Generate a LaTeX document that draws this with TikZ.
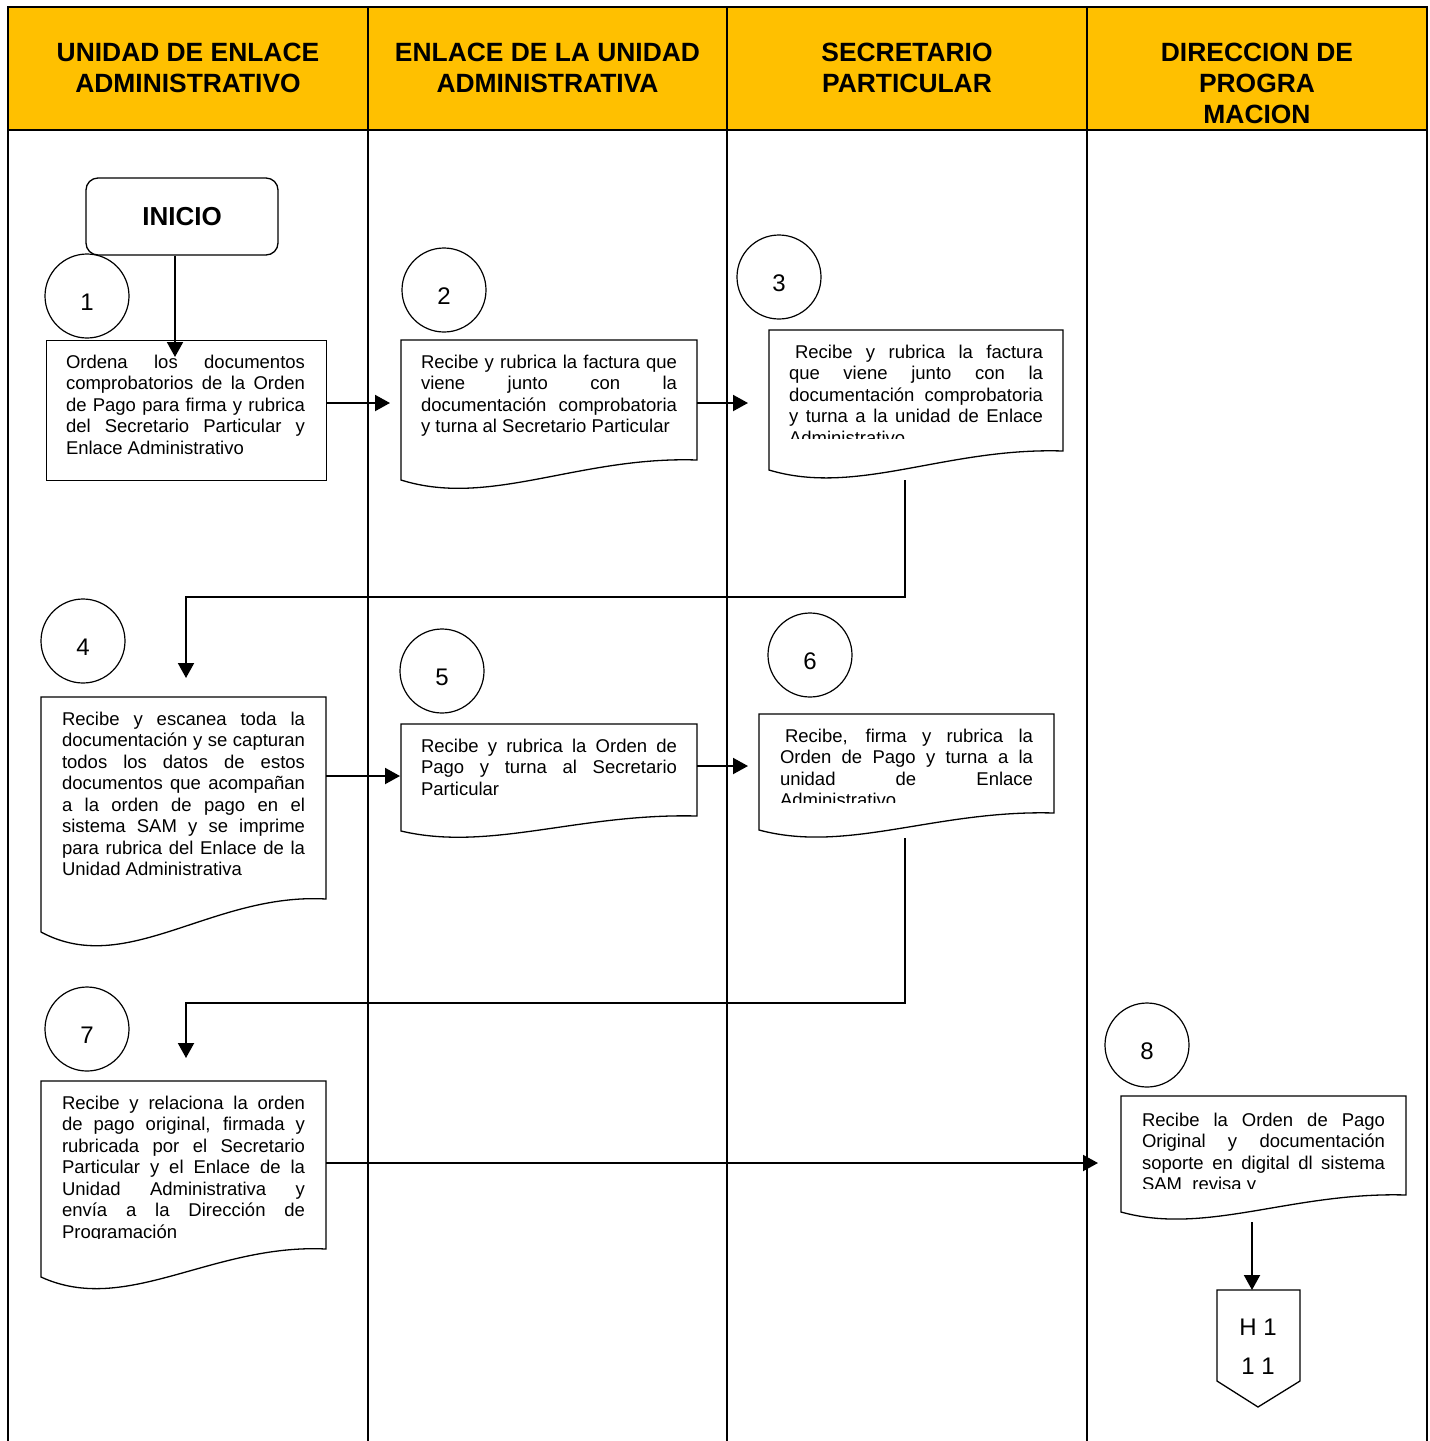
\documentclass[tikz,border=0pt]{standalone}
\usepackage{fontspec}
\setmainfont{Liberation Sans}
\usetikzlibrary{arrows.meta,calc}
\tolerance=10000 \hyphenpenalty=10000 \hbadness=10000
\definecolor{hdr}{HTML}{FFC000}
% #1 name, #2 x1, #3 x2, #4 top, #5 right bottom, #6 left bottom
\newcommand\docshp[6]{%
  \pgfmathsetmacro\dsw{#3-#2}\pgfmathsetmacro\dsd{#6-#5}%
  \pgfmathsetmacro\dsax{#2+0.6*\dsw}\pgfmathsetmacro\dsay{#5-0.2*\dsd}%
  \pgfmathsetmacro\dsbx{#2+0.3*\dsw}\pgfmathsetmacro\dsby{#6+1.4*\dsd}%
  \pgfmathsetmacro\dsh{#5-#4}%
  \node[inner sep=0,outer sep=0,minimum width=\dsw,minimum height=\dsh,anchor=north west] (#1) at (#2,#4) {};
  \draw[boxline] (#2,#4) -- (#3,#4) -- (#3,#5) .. controls (\dsax,\dsay) and (\dsbx,\dsby) .. (#2,#6) -- cycle;}
\newcommand\cnum[1]{\raisebox{-14.5pt}[0pt][0pt]{#1}}
\begin{document}
\begin{tikzpicture}[x=1pt,y=-1pt,
  boxline/.style={line width=1.3pt,line join=miter},
  tbl/.style={line width=2pt},
  arr/.style={line width=2pt,-{Triangle[length=15pt,width=16pt]}},
  circ/.style={circle,draw,line width=1.2pt,minimum size=84pt,inner sep=0,font=\fontsize{24}{28}\selectfont},
  txt/.style={inner sep=0,outer sep=0,anchor=north west,align=justify,font=\fontsize{18.5}{21.5}\selectfont},
  hd/.style={inner sep=0,anchor=north,align=center,font=\fontsize{26.4}{31}\selectfont\bfseries}]
\useasboundingbox (0,0) rectangle (1430,1441);
% table
\fill[hdr] (8,7) rectangle (1427,130);
\draw[tbl] (8,1441) -- (8,7) -- (1427,7) -- (1427,1441);
\draw[tbl] (8,130) -- (1427,130);
\draw[tbl] (368,7) -- (368,1441);
\draw[tbl] (727,7) -- (727,1441);
\draw[tbl] (1087,7) -- (1087,1441);
\node[hd] (h1) at (188,43) {UNIDAD DE ENLACE\\ADMINISTRATIVO};
\node[hd] (h2) at (547.5,43) {ENLACE DE LA UNIDAD\\ADMINISTRATIVA};
\node[hd] (h3) at (907,43) {SECRETARIO\\PARTICULAR};
\node[hd] (h4) at (1257,43) {DIRECCION DE\\PROGRA\\MACION};
% start
\node[draw,line width=1.3pt,rounded corners=12pt,minimum width=192pt,minimum height=77pt,inner sep=0,font=\fontsize{26}{30}\selectfont\bfseries] (ini) at (182,216.5) {INICIO};
% circles
\node[circ] (c1) at (87,296) {\cnum{1}};
\node[circ] (c2) at (444,290) {\cnum{2}};
\node[circ] (c3) at (779,277) {\cnum{3}};
\node[circ] (c4) at (83,641) {\cnum{4}};
\node[circ] (c5) at (442,671) {\cnum{5}};
\node[circ] (c6) at (810,655) {\cnum{6}};
\node[circ] (c7) at (87,1029) {\cnum{7}};
\node[circ] (c8) at (1147,1045) {\cnum{8}};
% box 1
\node[draw,line width=1.3pt,inner sep=0,minimum width=280pt,minimum height=140pt,anchor=north west] (b1) at (46,340) {};
\node[txt,text width=239pt] (t1) at (66,355) {Ordena los documentos\linebreak comprobatorios de la Orden\linebreak de Pago para firma y rubrica\linebreak del Secretario Particular y\linebreak Enlace Administrativo};
% document boxes
\docshp{b2}{401}{697}{340}{460}{480}
\node[txt,text width=256pt] (t2) at (421,355) {Recibe y rubrica la factura que\linebreak viene junto con la\linebreak documentación comprobatoria\linebreak y turna al Secretario Particular};
\docshp{b3}{769}{1063}{330}{451}{470}
\begin{scope}
\clip (769,330) rectangle (1063,438);
\node[txt,text width=254pt] (t3) at (789,345) {\hspace*{6pt}Recibe y rubrica la factura\linebreak que viene junto con la\linebreak documentación comprobatoria\linebreak y turna a la unidad de Enlace\linebreak Administrativo};
\end{scope}
\docshp{b4}{41}{326}{697}{899}{932}
\node[txt,text width=243pt] (t4) at (62,712) {Recibe y escanea toda la\linebreak documentación y se capturan\linebreak todos los datos de estos\linebreak documentos que acompañan\linebreak a la orden de pago en el\linebreak sistema SAM y se imprime\linebreak para rubrica del Enlace de la\linebreak Unidad Administrativa};
\docshp{b5}{401}{697}{724}{816}{831}
\node[txt,text width=256pt] (t5) at (421,739) {Recibe y rubrica la Orden de\linebreak Pago y turna al Secretario\linebreak Particular};
\docshp{b6}{759}{1054}{714}{813}{830}
\begin{scope}
\clip (759,714) rectangle (1054,802);
\node[txt,text width=253pt] (t6) at (780,729) {\hspace*{5pt}Recibe, firma y rubrica la\linebreak Orden de Pago y turna a la\linebreak unidad de Enlace\linebreak Administrativo};
\end{scope}
\docshp{b7}{41}{326}{1081}{1249}{1277}
\begin{scope}
\clip (41,1081) rectangle (326,1238);
\node[txt,text width=243pt] (t7) at (62,1096) {Recibe y relaciona la orden\linebreak de pago original, firmada y\linebreak rubricada por el Secretario\linebreak Particular y el Enlace de la\linebreak Unidad Administrativa y\linebreak envía a la Dirección de\linebreak Programación};
\end{scope}
\docshp{b8}{1121}{1406}{1096}{1195}{1212}
\begin{scope}
\clip (1121,1096) rectangle (1406,1188);
\node[txt,text width=243pt] (t8) at (1142,1113) {Recibe la Orden de Pago\linebreak Original y documentación\linebreak soporte en digital dl sistema\linebreak SAM\ \ revisa y};
\end{scope}
% off-page connector
\draw[boxline] (1217,1290) -- (1300,1290) -- (1300,1381) -- (1258,1407) -- (1217,1381) -- cycle;
\node[inner sep=0,outer sep=0,minimum width=83pt,minimum height=91pt,anchor=north west] (h11) at (1217,1290) {};
\node[font=\fontsize{24}{28}\selectfont,inner sep=0] (h11a) at (1258,1327) {H 1};
\node[font=\fontsize{24}{28}\selectfont,inner sep=0] (h11b) at (1258,1366) {1 1};
% connectors
\coordinate (p01) at (175,357);
\draw[arr] (ini.south -| p01) -- (p01);
\coordinate (p12) at (390,403);
\draw[arr] (b1.east |- p12) -- (p12);
\coordinate (p23) at (748,403);
\draw[arr] (b2.east |- p23) -- (p23);
\coordinate (s3) at (905,480);
\coordinate (k3) at (905,597);
\coordinate (p34) at (186,678);
\draw[arr] (s3) -- (k3) -| (p34);
\coordinate (p45) at (400,776);
\draw[arr] (b4.east |- p45) -- (p45);
\coordinate (p56) at (748,766);
\draw[arr] (b5.east |- p56) -- (p56);
\coordinate (s6) at (905,838);
\coordinate (k6) at (905,1003);
\coordinate (p67) at (186,1058);
\draw[arr] (s6) -- (k6) -| (p67);
\coordinate (p78) at (1098,1163);
\draw[arr] (b7.east |- p78) -- (p78);
\coordinate (s8) at (1252,1222);
\draw[arr] (s8) -- (h11.north -| s8);
\end{tikzpicture}
\end{document}
